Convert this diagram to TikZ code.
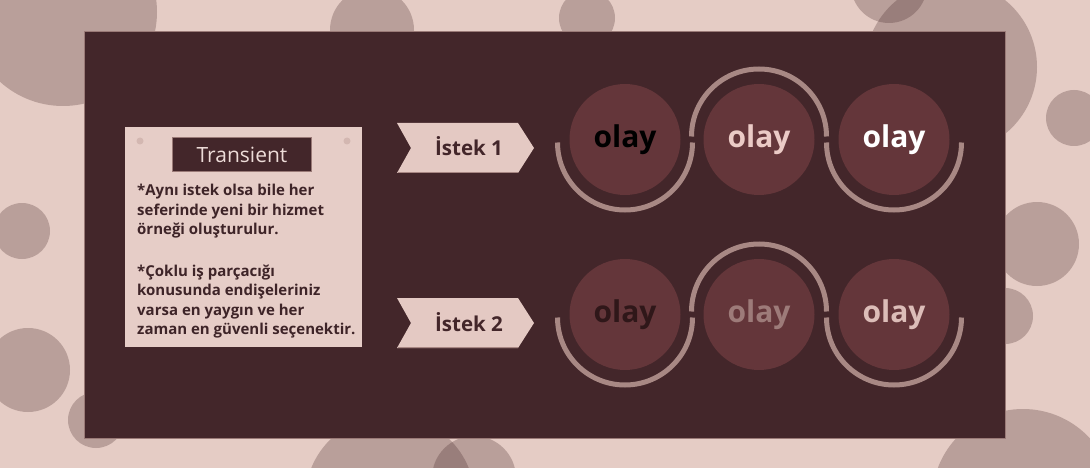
\documentclass[tikz,border=0pt]{standalone}
\usepackage{fontspec}
\setmainfont{Open Sans}
\newfontfamily\tfont{Open Sans}
\definecolor{bg}{HTML}{E5CCC5}
\definecolor{blob}{HTML}{462828}
\definecolor{panel}{HTML}{43262A}
\definecolor{paneledge}{HTML}{9A7A77}
\definecolor{card}{HTML}{E6CDC7}
\definecolor{pincol}{HTML}{D3B7B1}
\definecolor{ink}{HTML}{3E2428}
\definecolor{tagtxt}{HTML}{EDDCD8}
\definecolor{chev}{HTML}{E4C9C3}
\definecolor{chevshade}{HTML}{A88783}
\definecolor{ball}{HTML}{64363A}
\definecolor{ring}{HTML}{A88884}
\definecolor{oa}{HTML}{000000}
\definecolor{ob}{HTML}{EBCBC6}
\definecolor{oc}{HTML}{FFFFFF}
\definecolor{od}{HTML}{2F1719}
\definecolor{oe}{HTML}{9D7B79}
\definecolor{of}{HTML}{DCBDB8}
\tikzset{
  bgblob/.style={fill=blob, fill opacity=0.27},
  bodyline/.style={anchor=base west, inner sep=0pt, text=ink, font=\fontsize{15}{19}\selectfont\bfseries},
  chevbox/.style={fill=chev},
  chevtext/.style={text=panel, font=\fontsize{20.5}{24}\selectfont\bfseries, inner sep=0pt},
  ballnode/.style={circle, fill=ball, minimum size=111pt, inner sep=0pt},
  oltext/.style={inner sep=0pt, font=\fontsize{30}{36}\selectfont\bfseries},
  ringarc/.style={draw=ring, line width=5pt, line cap=butt},
}
\begin{document}
\begin{tikzpicture}[x=1pt,y=-1pt]
\useasboundingbox (0,0) rectangle (1090,468);
\fill[bg] (0,0) rectangle (1090,468);
\begin{scope}
\clip (0,0) rectangle (1090,468);
\foreach \cx/\cy/\r in {63/12/94, 372/30/42, 587/18/28, 889/-15/38, 951/67/86, 1074/118/28,
  1037/244/42, 1005/316/28, 1023/500/91, 22/231/28, 28/370/42, 96/420/28, 390/500/85, 474/478/42}
  \fill[bgblob] (\cx,\cy) circle[radius=\r];
\end{scope}
% panel
\fill[panel] (84.5,31) rectangle (1005.5,438);
\draw[paneledge, line width=0.8pt] (84.5,31) rectangle (1005.5,438);
% card
\node[fill=card, minimum width=237pt, minimum height=220pt, inner sep=0pt] (card) at (243.5,237) {};
\fill[pincol] (140,141) circle[radius=3.5];
\fill[pincol] (347,141) circle[radius=3.5];
\node[fill=panel, draw=paneledge, line width=1.5pt, minimum width=139pt, minimum height=34pt, inner sep=0pt,
      text=tagtxt, font=\tfont\fontsize{21}{24}\selectfont] (tag) at (242,154.5) {Transient};
\node[bodyline] (l1) at (137,196) {*Aynı istek olsa bile her};
\node[bodyline] (l2) at (137,215) {seferinde yeni bir hizmet};
\node[bodyline] (l3) at (137,234) {örneği oluşturulur.};
\node[bodyline] (l4) at (137,276) {*Çoklu iş parçacığı};
\node[bodyline] (l5) at (137,295.5) {konusunda endişeleriniz};
\node[bodyline] (l6) at (137,315) {varsa en yaygın ve her};
\node[bodyline] (l7) at (137,334.5) {zaman en güvenli seçenektir.};
% chevrons
\foreach \dy/\nm/\lab in {0/r1/{İstek 1}, 175/r2/{İstek 2}} {
  \begin{scope}[yshift=-\dy pt]
    \fill[chevbox] (397,123) -- (518,123) -- (534,148) -- (518,173) -- (397,173) -- (411,148) -- cycle;
    \draw[chevshade, line width=1.5pt] (398,172.5) -- (518,172.5);
    \node[chevtext, anchor=base] (\nm) at (469,156) {\lab};
  \end{scope}
}
% event circles
\node[ballnode] (c11) at (625,139.5) {};
\node[ballnode] (c12) at (759,139.5) {};
\node[ballnode] (c13) at (894,139.5) {};
\node[ballnode] (c21) at (625,314.5) {};
\node[ballnode] (c22) at (759,314.5) {};
\node[ballnode] (c23) at (894,314.5) {};
\foreach \a/\col in {c11/oa, c12/ob, c13/oc, c21/od, c22/oe, c23/of} {
  \node[oltext, text=\col, anchor=base] (t\a) at ([yshift=-8pt]\a.center) {olay};
}
\foreach \a in {c11, c13, c21, c23} {
  \draw[ringarc] (\a.center) ++(-67.5,3) arc[start angle=180, end angle=0, radius=67.5];
}
\foreach \a in {c12, c22} {
  \draw[ringarc] (\a.center) ++(-67.5,-3) arc[start angle=180, end angle=360, radius=67.5];
}
\end{tikzpicture}
\end{document}
